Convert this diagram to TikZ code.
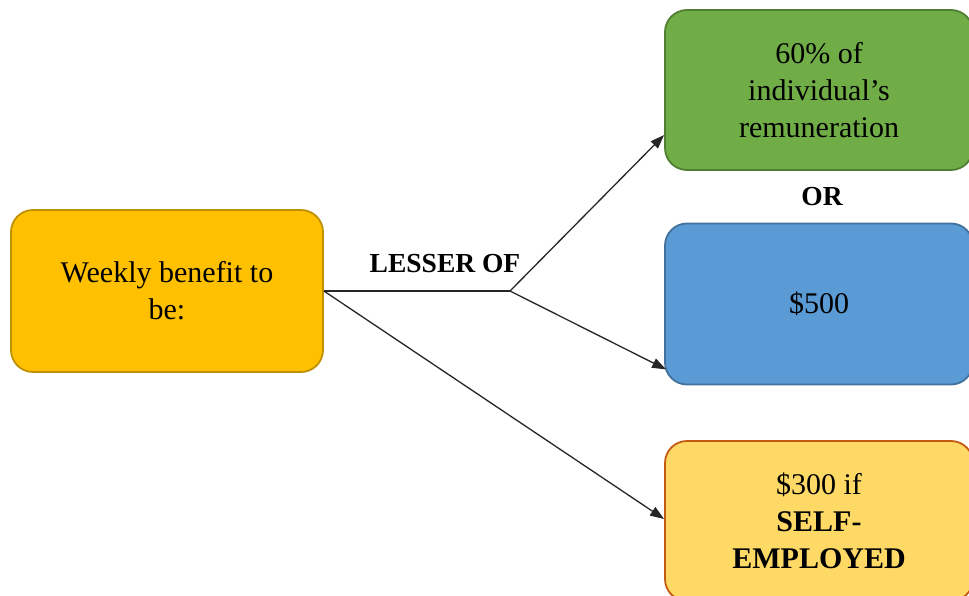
\documentclass[tikz,border=0pt]{standalone}
\usepackage{fontspec}
\setmainfont{Liberation Serif}
\usetikzlibrary{arrows.meta,calc}
\definecolor{orgfill}{HTML}{FFC000}
\definecolor{orgdraw}{HTML}{BF9000}
\definecolor{grnfill}{HTML}{70AD47}
\definecolor{grndraw}{HTML}{507E32}
\definecolor{blufill}{HTML}{5B9BD5}
\definecolor{bludraw}{HTML}{41719C}
\definecolor{ylwfill}{HTML}{FFD966}
\definecolor{ylwdraw}{HTML}{C55A11}
\begin{document}
\begin{tikzpicture}[x=1pt,y=-1pt,
  box/.style={rectangle, rounded corners=22pt, line width=1.8pt, align=center,
    inner sep=0pt, font=\fontsize{30}{37}\selectfont},
  conn/.style={line width=1.3pt, draw=black!85},
  arr/.style={conn, -{Triangle[length=14pt,width=10pt]}},
  lbl/.style={font=\fontsize{27.5}{32}\selectfont\bfseries}]
\clip (0,0) rectangle (969,596);
\fill[white] (0,0) rectangle (969,596);
\node[box, fill=orgfill, draw=orgdraw, minimum width=312pt, minimum height=162pt] (weekly) at (167,291) {Weekly benefit to\\be:};
\node[box, fill=grnfill, draw=grndraw, minimum width=308pt, minimum height=160pt] (green) at (819,90) {60\% of\\individual’s\\remuneration};
\node[box, fill=blufill, draw=bludraw, minimum width=308pt, minimum height=161pt] (blue) at (819,304) {\$500};
\node[box, fill=ylwfill, draw=ylwdraw, minimum width=308pt, minimum height=160pt] (selfbox) at (819,521) {\$300 if\\\textbf{SELF-}\\\textbf{EMPLOYED}};
\node[lbl] (lesser) at (445,264) {LESSER OF};
\node[lbl] (or) at (822,197) {OR};
\coordinate (j) at (510,291);
\draw[conn] (weekly.east) -- (j);
\draw[arr] (j) -- ($(green.west)+(0,45)$);
\draw[arr] (j) -- ($(blue.south west)+(2,-16)$);
\draw[arr] (weekly.east) -- ($(selfbox.west)+(0,-2)$);
\end{tikzpicture}
\end{document}
